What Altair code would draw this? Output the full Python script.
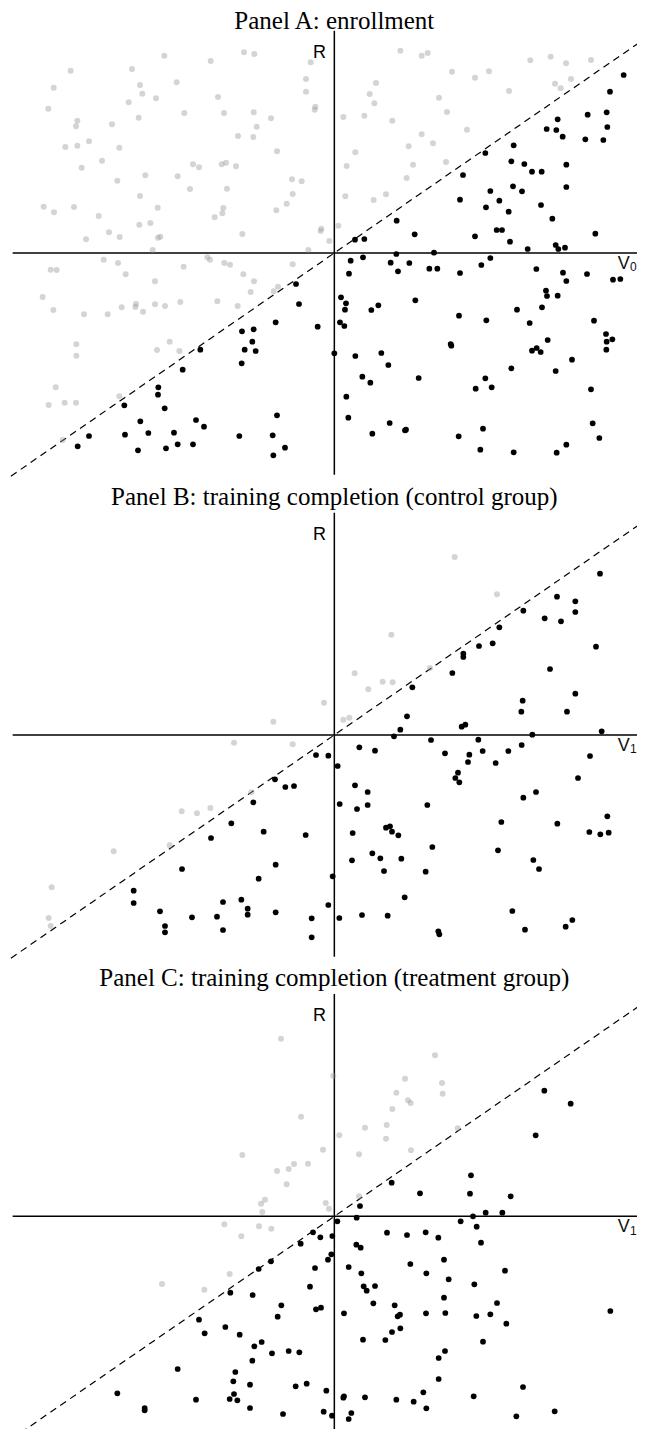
import altair as alt
import pandas as pd

# ---------------- data (V, R in arbitrary units; origin = axis crossing) ----------------
A_GRAY_V = [-510,-371,-271,-240,-71,-791,-607,-473,-842,-583,
            -576,-535,-349,-85,-85,-858,-617,-57,-59,-771,
            -775,-587,-667,-450,-331,-242,-190,-233,-807,-771,
            -736,-645,-289,-243,-172,-758,-697,-567,-651,-470,
            -424,-406,-338,-325,-295,-433,-322,-127,-98,-125,
            -583,-872,-841,-781,-707,-530,-333,-336,-359,-174,
            -143,-585,-552,-676,-644,-745,-529,-522,-276,-39,
            -41,-15,-78,-545,-692,-649,-381,-373,-330,-313,
            -851,-833,-626,-452,-273,-241,-538,-125,-875,-843,
            -751,-680,-638,-595,-597,-574,-538,-508,-462,-351,
            -290,-251,-182,-169,-774,-774,-532,-494,-465,-836,
            -857,-809,-775,-645,-815,198,262,280,353,422,
            464,588,649,695,770,662,679,710,524,125,
            106,120,27,90,174,314,338,398,262,296,
            223,63,37,236,335,217,33,118,155,12]
A_GRAY_R = [592,576,602,597,572,547,552,512,496,504,
            478,464,468,522,484,433,452,439,430,397,
            380,406,386,420,420,422,404,379,318,322,
            335,316,351,348,305,256,277,233,217,230,
            266,257,266,271,260,192,193,221,215,177,
            171,139,122,138,111,136,135,119,107,128,
            148,85,90,62,48,41,46,49,57,73,
            66,36,9,9,-20,-30,-13,-20,-30,-35,
            -50,-51,-64,-41,-64,-85,-85,-34,-132,-171,
            -184,-184,-163,-153,-162,-176,-154,-159,-147,-145,
            -159,-117,-115,-101,-274,-308,-291,-266,-294,-403,
            -456,-449,-449,-430,-561,607,592,600,544,526,
            545,578,589,569,579,508,494,522,486,510,
            477,449,408,412,397,466,423,370,356,329,
            320,302,261,265,273,225,170,159,176,82]

A_BLACK_V = [868,827,760,817,819,670,637,666,685,753,
             807,538,453,531,570,593,622,696,696,386,
             536,563,468,495,377,455,523,620,654,187,
             241,422,487,503,783,62,90,527,580,664,
             672,692,49,86,186,169,191,225,299,285,
             309,377,441,468,44,606,686,696,758,836,
             858,20,35,32,111,132,243,374,456,548,
             586,623,635,638,670,779,17,30,815,817,
             834,816,640,349,351,0,63,141,162,84,
             108,253,531,593,607,619,713,664,770,424,
             453,472,36,42,114,166,212,215,373,446,
             438,538,667,696,775,795,-115,-106,-176,-50,
             -277,-242,-246,-269,-236,-402,-278,-455,-528,-529,
             -509,-630,-582,-415,-391,-628,-558,-481,-470,-505,
             -589,-424,-285,-185,-172,-148,-183,-736,-770]
A_BLACK_R = [534,484,415,422,378,401,372,369,349,341,
             339,323,300,275,267,244,244,265,198,234,
             200,185,186,157,160,137,124,144,103,97,
             56,50,69,69,58,40,42,34,12,24,
             12,16,-23,-13,-3,-29,-55,-30,1,-47,
             -47,-60,-36,-15,-62,-48,-59,-84,-63,-80,
             -78,-133,-151,-170,-171,-157,-142,-188,-202,-170,
             -210,-163,-113,-129,-128,-203,-208,-219,-243,-266,
             -259,-290,-261,-273,-278,-301,-309,-300,-336,-371,
             -389,-375,-346,-293,-285,-297,-320,-354,-409,-407,
             -376,-403,-431,-494,-542,-510,-532,-530,-550,-527,
             -590,-598,-599,-575,-511,-555,-93,-153,-208,-221,
             -235,-229,-266,-290,-294,-290,-331,-350,-403,-425,
             -466,-457,-505,-501,-521,-545,-540,-539,-574,-586,
             -592,-574,-549,-547,-487,-584,-607,-549,-580]

B_GRAY_V = [-31,361,488,171,61,145,175,102,287,27,45,-183,-301,-125,-249,-458,-412,-372,-662,-494,-848,-857,-851]
B_GRAY_R = [97,534,422,301,185,160,158,137,201,46,52,40,-23,-28,-172,-229,-235,-219,-349,-331,-457,-549,-573]

B_BLACK_V = [797,668,723,723,567,631,680,495,434,475,
             387,387,354,785,647,234,565,723,561,698,
             218,382,393,198,179,802,594,290,432,75,
             122,10,332,405,401,445,484,522,562,767,
             731,371,363,375,62,100,16,68,100,279,
             567,605,501,669,819,765,798,823,55,155,
             167,173,192,294,114,138,201,53,149,274,
             491,597,614,211,15,83,160,534,572,694,
             714,312,315,-55,-18,-178,-147,-121,-243,-309,
             -370,-212,-86,-457,-176,-227,-5,-602,-602,-523,
             -508,-508,-427,-352,-334,-334,-279,-260,-260,-176,
             -68,-68,-18]
B_BLACK_R = [484,415,401,369,373,350,341,323,267,275,
             244,234,186,265,198,143,103,124,70,70,
             56,25,31,16,-4,11,1,-15,-14,-37,
             -47,-93,-55,-59,-81,-48,-84,-48,-30,-63,
             -129,-113,-129,-142,-151,-171,-207,-222,-210,-210,
             -188,-171,-261,-266,-244,-291,-298,-293,-294,-278,
             -274,-290,-301,-336,-355,-370,-371,-376,-408,-410,
             -346,-375,-402,-487,-549,-540,-542,-528,-584,-575,
             -555,-589,-598,-60,-62,-133,-156,-153,-202,-265,
             -309,-290,-300,-402,-389,-431,-424,-467,-504,-529,
             -573,-592,-547,-545,-501,-585,-494,-521,-539,-532,
             -550,-607,-510]

C_GRAY_V = [-160,-100,-34,-276,-121,-79,-137,-172,-143,302,
            -3,212,323,325,186,221,229,174,92,157,
            155,370,15,74,230,74,-220,-208,-216,-26,
            -16,-330,-226,-189,-279,-314,-517,-390]
C_GRAY_R = [533,299,200,184,157,158,142,136,96,483,
            422,413,400,368,371,348,340,322,266,274,
            233,264,243,186,198,60,38,50,13,40,
            23,-24,-30,-37,-60,-173,-203,-220]

C_BLACK_V = [630,709,604,410,172,257,407,529,77,67,
             9,416,454,504,379,427,440,158,218,274,
             312,66,79,43,81,228,276,329,343,420,
             512,88,97,122,117,181,29,190,197,198,
             173,153,86,275,329,333,426,468,488,516,
             446,828,332,313,313,27,29,92,186,238,
             267,276,418,566,546,661,51,43,-64,-42,
             -6,-101,-9,-19,-190,-227,-58,-73,-312,-245,
             -159,-170,-55,-40,-406,-389,-327,-284,-240,-218,
             -187,-137,-105,-246,-470,-297,-303,-253,-116,-83,
             -24,-651,-415,-301,-314,-291,-569,-569,-253,-154,
             -32,-7]
C_BLACK_R = [377,338,243,123,101,69,68,60,31,-4,
             -15,0,11,11,-15,-31,-79,-49,-56,-48,
             -64,-85,-94,-152,-171,-143,-171,-130,-189,-204,
             -163,-210,-223,-209,-261,-267,-291,-300,-295,-336,
             -347,-371,-370,-291,-244,-290,-299,-294,-260,-322,
             -376,-284,-404,-425,-488,-544,-540,-543,-550,-556,
             -528,-576,-540,-512,-600,-585,-590,-608,-48,-63,
             -59,-82,-114,-130,-135,-158,-155,-211,-229,-236,
             -267,-301,-279,-274,-310,-351,-332,-355,-390,-377,
             -411,-404,-408,-433,-458,-467,-495,-505,-510,-502,
             -523,-531,-550,-533,-548,-552,-575,-582,-575,-593,
             -586,-598]

TITLES = ["Panel A: enrollment",
          "Panel B: training completion (control group)",
          "Panel C: training completion (treatment group)"]
SUBSCRIPTS = ["0", "1", "1"]

# axis extents and 45-degree reference line (in data units)
X_DOMAIN = [-979, 908]
AXIS_H = [-965, 940]
AXIS_V = [-665, 667]
DIAG_V = [-1000, 1000]
DIAG_R = [-690, 690]


def panel(title, title_r, sub, gv, gr, bv, br, height, r_domain):
    xs = alt.Scale(domain=X_DOMAIN, nice=False, zero=False)
    ys = alt.Scale(domain=r_domain, nice=False, zero=False)

    def X(f):
        return alt.X(f, type="quantitative", scale=xs, axis=None)

    def Y(f):
        return alt.Y(f, type="quantitative", scale=ys, axis=None)

    diag = alt.Chart(pd.DataFrame({"v1": [DIAG_V[0]], "v2": [DIAG_V[1]],
                                   "r1": [DIAG_R[0]], "r2": [DIAG_R[1]]})).mark_rule(
        color="black", strokeWidth=1.2, strokeDash=[7, 5], clip=True
    ).encode(x=X("v1"), x2="v2", y=Y("r1"), y2="r2")

    axes = alt.Chart(pd.DataFrame({"v1": [AXIS_H[0], 0], "v2": [AXIS_H[1], 0],
                                   "r1": [0, AXIS_V[0]], "r2": [0, AXIS_V[1]]})).mark_rule(
        color="black", strokeWidth=1.5, clip=True
    ).encode(x=X("v1"), x2="v2", y=Y("r1"), y2="r2")

    gray = alt.Chart(pd.DataFrame({"V": gv, "R": gr})).mark_circle(
        color="#999999", opacity=0.42, size=36
    ).encode(x=X("V"), y=Y("R"))

    black = alt.Chart(pd.DataFrame({"V": bv, "R": br})).mark_circle(
        color="black", opacity=1, size=33
    ).encode(x=X("V"), y=Y("R"))

    ttl = alt.Chart(pd.DataFrame({"V": [0], "R": [title_r], "t": [title]})).mark_text(
        font="Liberation Serif", fontSize=25, align="center", baseline="alphabetic", color="black"
    ).encode(x=X("V"), y=Y("R"), text="t:N")

    rlab = alt.Chart(pd.DataFrame({"V": [-25], "R": [585], "t": ["R"]})).mark_text(
        font="Liberation Sans", fontSize=18, align="right", baseline="alphabetic", color="black"
    ).encode(x=X("V"), y=Y("R"), text="t:N")

    vlab = alt.Chart(pd.DataFrame({"V": [850], "R": [-47], "t": ["V"]})).mark_text(
        font="Liberation Sans", fontSize=18, align="left", baseline="alphabetic", color="#111111"
    ).encode(x=X("V"), y=Y("R"), text="t:N")

    slab = alt.Chart(pd.DataFrame({"V": [887], "R": [-55], "t": [sub]})).mark_text(
        font="Liberation Sans", fontSize=12, align="left", baseline="alphabetic", color="#111111"
    ).encode(x=X("V"), y=Y("R"), text="t:N")

    return alt.layer(diag, axes, gray, black, ttl, rlab, vlab, slab).properties(
        width=629, height=height
    )


pA = panel(TITLES[0], 673, SUBSCRIPTS[0], A_GRAY_V, A_GRAY_R, A_BLACK_V, A_BLACK_R, 482, [-717, 729])
pB = panel(TITLES[1], 690, SUBSCRIPTS[1], B_GRAY_V, B_GRAY_R, B_BLACK_V, B_BLACK_R, 482, [-717, 729])
pC = panel(TITLES[2], 690, SUBSCRIPTS[2], C_GRAY_V, C_GRAY_R, C_BLACK_V, C_BLACK_R, 455, [-638, 727])

chart = alt.vconcat(pA, pB, pC, spacing=0, bounds="flush").properties(
    padding={"left": 0, "right": 0, "top": 0, "bottom": 0}
).configure_view(stroke=None)

chart.save("out.html", embed_options={"renderer": "svg", "actions": False})
